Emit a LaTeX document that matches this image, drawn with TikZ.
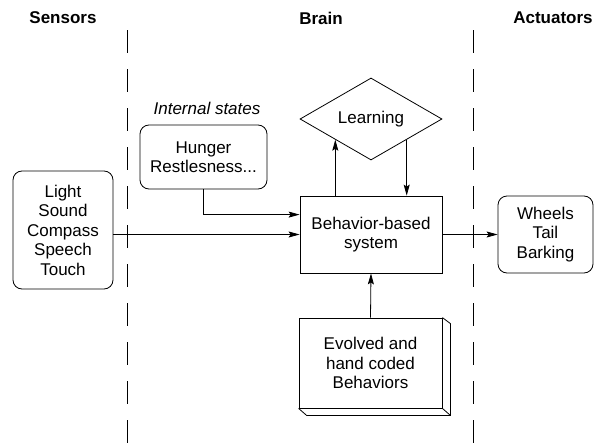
\documentclass[tikz,border=0pt]{standalone}
\usepackage{fontspec}
\setmainfont{Liberation Sans}
\usetikzlibrary{arrows.meta,shapes.geometric,calc}
\begin{document}
\begin{tikzpicture}[x=1pt,y=-1pt,
  line width=0.8pt,
  every node/.style={font=\fontsize{17}{19.5}\selectfont},
  rbox/.style={draw, rounded corners=9pt, align=center, inner sep=0pt},
  sbox/.style={draw, align=center, inner sep=0pt},
  arr/.style={-{Stealth[length=11pt,width=6pt,inset=2pt]}},
  divider/.style={dash pattern=on 23pt off 16pt},
  title/.style={font=\bfseries\fontsize{17}{19.5}\selectfont},
  itlabel/.style={font=\itshape\fontsize{17}{19.5}\selectfont}]
\fill[white] (0,0) rectangle (595,447);
\useasboundingbox (0,0) rectangle (595,447);

% titles
\node[title] (tS) at (63,18) {Sensors};
\node[title] (tB) at (321,18) {Brain};
\node[title] (tA) at (553,18) {Actuators};

% dividers
\coordinate (d1t) at (127,30); \coordinate (d1b) at (127,447);
\coordinate (d2t) at (473,30); \coordinate (d2b) at (473,447);
\draw[divider] (d1t) -- (d1b);
\draw[divider] (d2t) -- (d2b);

% nodes
\node[rbox, minimum width=100pt, minimum height=118pt] (sens) at (63,230)
  {Light\\Sound\\Compass\\Speech\\Touch};
\node[itlabel] (int) at (207,108) {Internal states};
\node[rbox, minimum width=127pt, minimum height=64pt] (hung) at (203.5,157)
  {Hunger\\Restlesness...};
\node[sbox, minimum width=142pt, minimum height=77pt] (bbs) at (371,234.5)
  {Behavior-based\\system};
\node[diamond, draw, inner sep=0pt, minimum width=142pt, minimum height=64pt] (learn) at (371,119) {Learning};
\node[sbox, minimum width=143pt, minimum height=90pt] (evo) at (370.5,363)
  {Evolved and\\hand coded\\Behaviors};
\node[rbox, minimum width=95pt, minimum height=77pt] (whl) at (545.5,234.5)
  {Wheels\\Tail\\Barking};

% 3D depth of evolved box
\coordinate (eA) at ($(evo.north east)+(8,6)$);
\coordinate (eB) at ($(evo.south east)+(8,7)$);
\coordinate (eC) at ($(evo.south west)+(8,7)$);
\draw (evo.north east) -- (eA) -- (eB) -- (eC) -- (evo.south west);
\draw (evo.south east) -- (eB);

% learning attachment points
\coordinate (lsw) at ($(learn.south)!0.5!(learn.west)$);
\coordinate (lse) at ($(learn.south)!0.5!(learn.east)$);

% connectors
\draw[arr] (hung.south) |- ($(bbs.north west)+(0,19)$);
\draw[arr] (sens.east |- bbs.west) -- (bbs.west);
\draw[arr] (bbs.north -| lsw) -- (lsw);
\draw[arr] (lse) -- (bbs.north -| lse);
\draw[arr] (evo.north) -- (bbs.south);
\draw[arr] (bbs.east) -- (whl.west);
\end{tikzpicture}
\end{document}
